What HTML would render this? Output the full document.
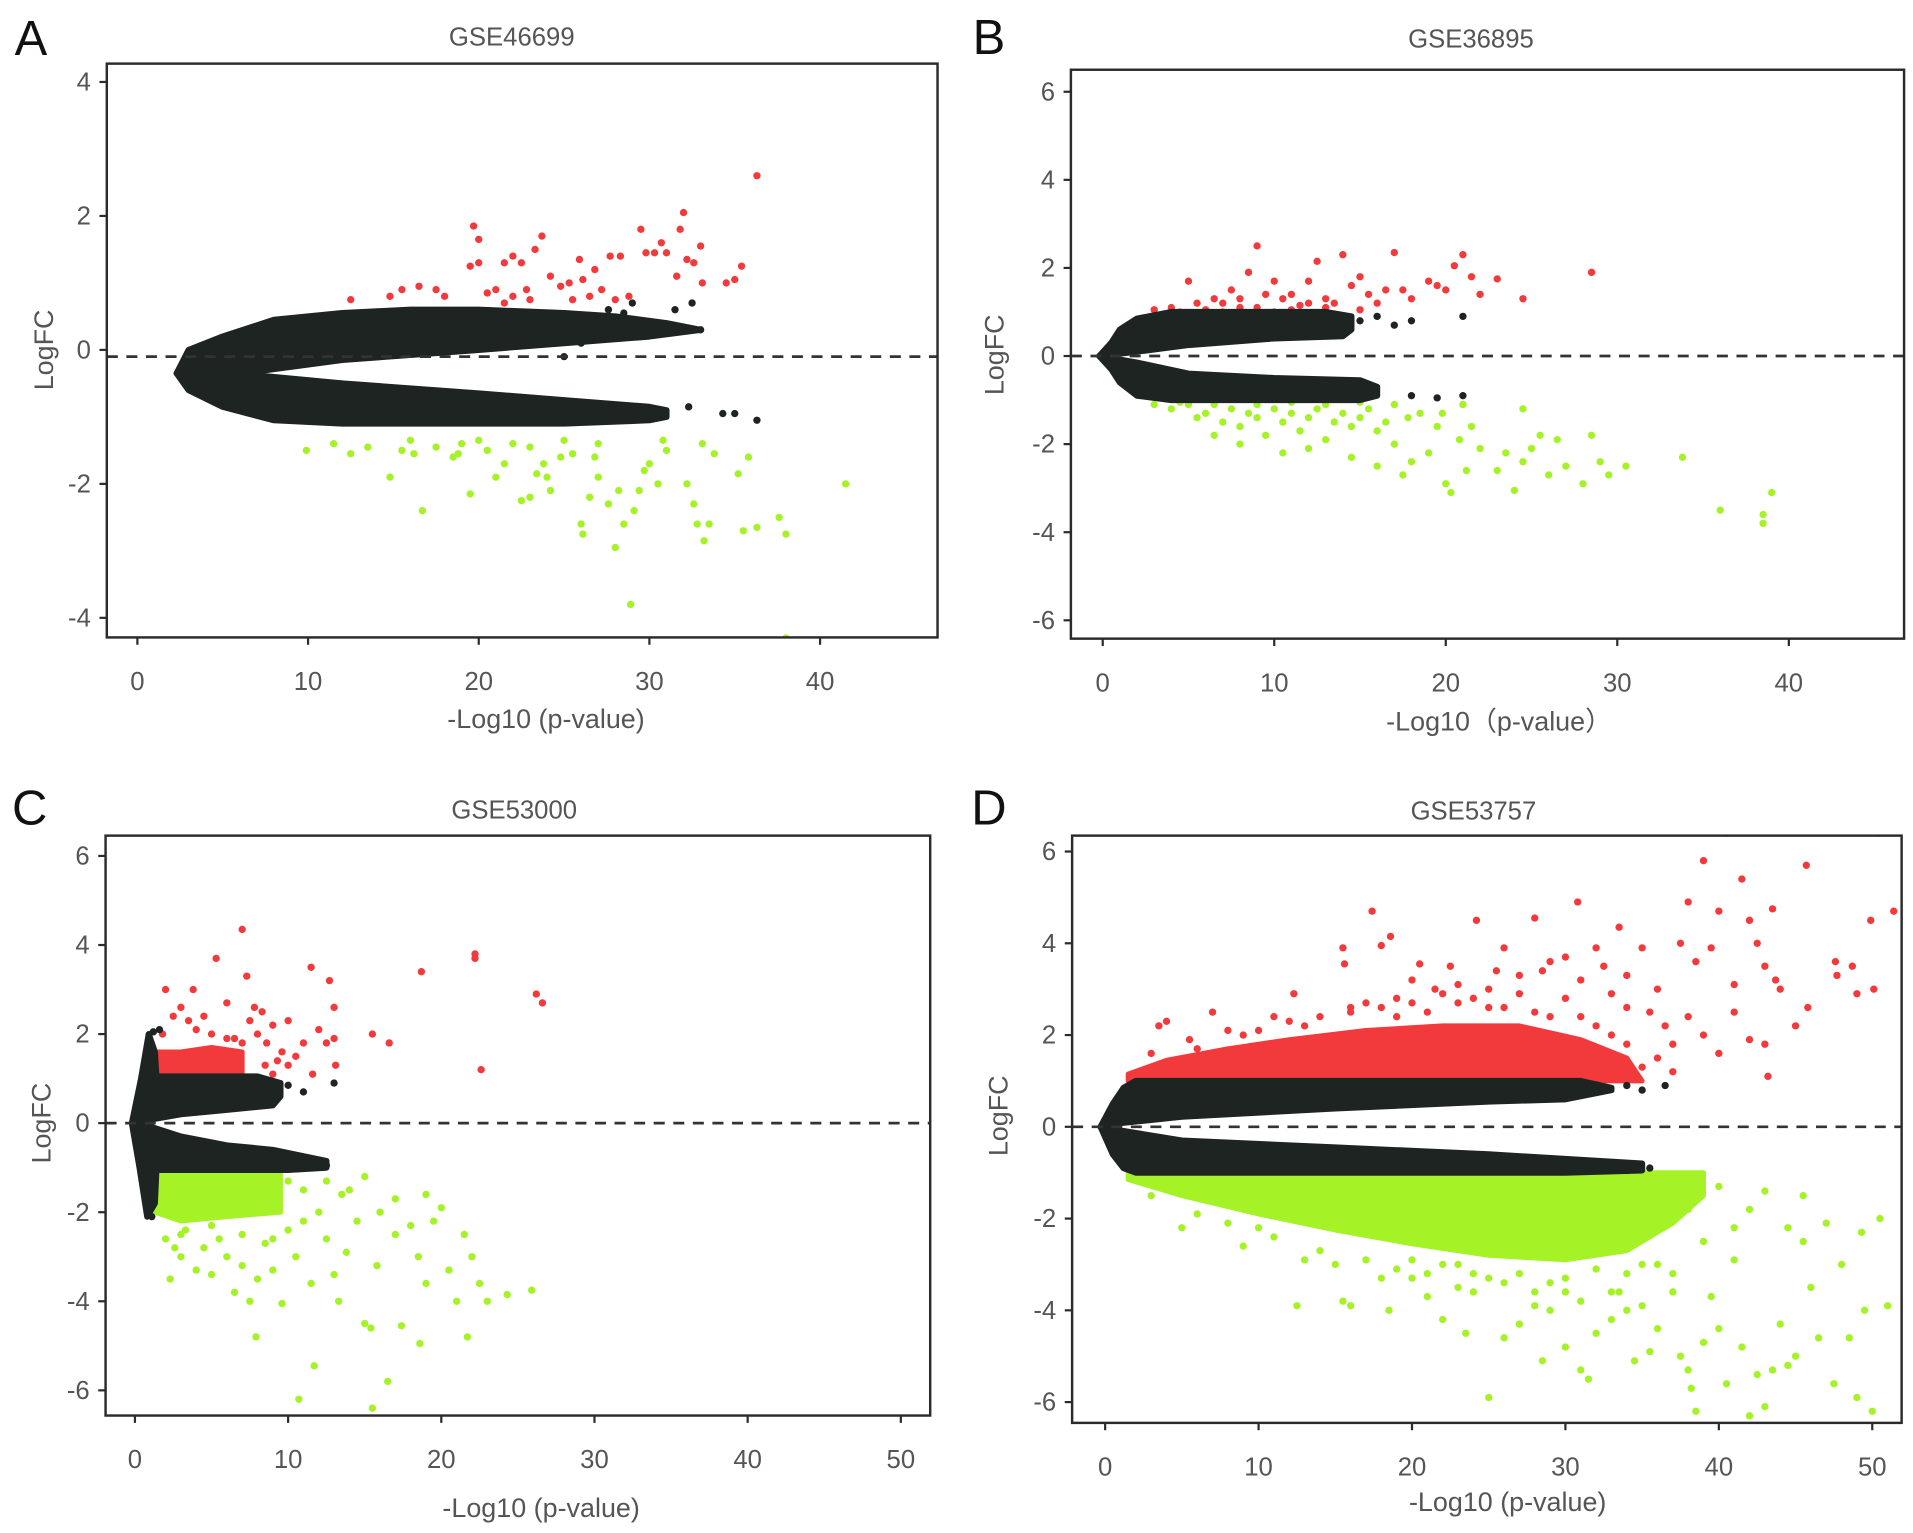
<!DOCTYPE html>
<html><head><meta charset="utf-8">
<style>
html,body{margin:0;padding:0;background:#fff;}
svg{display:block;}
text{font-family:"Liberation Sans",sans-serif;}
</style></head>
<body>
<svg id="fig" width="1913" height="1533" viewBox="0 0 1563 1253" xmlns="http://www.w3.org/2000/svg"></svg>
<script>
// ===== Panel A data (GSE46699) =====
const aBlackUpTopX=[2.3,3,5,8,12,16,20,25,28,31,33];
const aBlackUpTopY=[-0.35,0.0,0.2,0.45,0.55,0.6,0.6,0.55,0.5,0.4,0.3];
const aBlackUpBotX=[7,12,20,25,30,33];
const aBlackUpBotY=[-0.32,-0.15,0.0,0.1,0.2,0.3];
const aBlackLoTopX=[7,12,20,25,30,31];
const aBlackLoTopY=[-0.38,-0.5,-0.65,-0.75,-0.85,-0.9];
const aBlackLoBotX=[2.3,3,5,8,12,20,25,30,31];
const aBlackLoBotY=[-0.35,-0.6,-0.85,-1.05,-1.1,-1.1,-1.1,-1.05,-1.0];
const aRed=[[12.5,0.75],[14.8,0.8],[15.5,0.9],[16.5,0.95],[17.5,0.9],[19.7,1.85],[20,1.65],[19.5,1.25],[20,1.3],[21.5,1.3],[22,1.4],[22.5,1.3],[21,0.9],[22,0.8],[23.3,1.5],[23.7,1.7],[24.2,1.1],[24.8,0.95],[25.3,1.0],[25.9,1.35],[26.1,1.05],[26.8,1.2],[27.2,0.9],[27.7,1.4],[28.3,1.4],[28.8,0.8],[29.5,1.8],[29.8,1.45],[30.3,1.45],[30.7,1.6],[31,1.45],[31.6,1.1],[31.8,1.8],[32,2.05],[32.2,1.35],[32.6,1.3],[33,1.55],[33.1,1.0],[34.5,1.0],[35,1.05],[35.4,1.25],[36.3,2.6],[18,0.8],[21.5,0.7],[23,0.75],[25.5,0.75],[26.5,0.8],[28,0.75],[20.5,0.85],[22.8,0.9]];
const aGreen=[[9.9,-1.5],[11.5,-1.4],[12.5,-1.55],[14.8,-1.9],[15.5,-1.5],[16.2,-1.55],[16.7,-2.4],[17.5,-1.45],[19.5,-2.15],[18.5,-1.6],[20.5,-1.5],[21.5,-1.7],[22.5,-2.25],[23,-2.2],[23.4,-1.85],[23.8,-1.7],[24.2,-2.1],[24.8,-1.6],[25.5,-1.55],[26,-2.6],[26.1,-2.75],[26.5,-2.2],[27,-1.9],[27.6,-2.3],[28,-2.95],[28.2,-2.1],[28.5,-2.6],[28.9,-3.8],[29.1,-2.4],[29.4,-2.1],[29.7,-1.8],[30,-1.7],[30.5,-2.0],[31,-1.5],[32.2,-2.0],[32.6,-2.3],[32.8,-2.6],[33.2,-2.85],[33.5,-2.6],[33.8,-1.55],[33.1,-1.4],[35.2,-1.85],[35.5,-2.7],[35.8,-1.6],[36.3,-2.65],[37.6,-2.5],[38,-2.75],[38,-4.3],[41.5,-2.0],[20,-1.35],[22,-1.4],[25,-1.35],[27,-1.4],[30.8,-1.35],[13.5,-1.45],[18.8,-1.55],[21,-1.9],[24,-1.9],[26.8,-1.6],[16,-1.35],[19,-1.4],[23,-1.45]];
const aBlack=[[27.6,0.6],[28.5,0.55],[29.5,0.4],[30,0.35],[31.5,0.6],[32.5,0.7],[33,0.3],[25,-0.1],[32.3,-0.85],[34.3,-0.95],[35,-0.95],[36.3,-1.05],[29,0.7],[26,0.1]];
const aXTicks=[0,10,20,30,40];
const aYTicks=[-4,-2,0,2,4];
const aDash=-0.1;

// ===== Panel B data (GSE36895) =====
const bBlackUpTopX=[-0.2,0.5,1,2,4,8,13,14.5];
const bBlackUpTopY=[0,0.3,0.6,0.85,1.0,1.0,1.0,0.9];
const bBlackUpBotX=[2,5,10,14,14.5];
const bBlackUpBotY=[0.1,0.25,0.4,0.45,0.6];
const bBlackLoTopX=[2,5,10,15,16];
const bBlackLoTopY=[-0.15,-0.4,-0.5,-0.55,-0.7];
const bBlackLoBotX=[-0.2,0.5,1,2,4,10,15,16];
const bBlackLoBotY=[0,-0.3,-0.6,-0.9,-1.0,-1.0,-1.0,-0.9];
const bRed=[[3,1.05],[4,1.1],[5,1.7],[5.5,1.2],[6.5,1.3],[7,1.2],[7.5,1.5],[8,1.3],[8.5,1.9],[9,2.5],[9.5,1.4],[10,1.7],[10.5,1.3],[11,1.4],[11.5,1.15],[12,1.7],[12.5,2.15],[13,1.3],[13.5,1.2],[14,2.3],[14.5,1.6],[15,1.8],[15.5,1.4],[16,1.2],[16.5,1.5],[17,2.35],[17.5,1.5],[18,1.3],[19,1.7],[19.5,1.6],[20,1.5],[20.5,2.05],[21,2.3],[21.5,1.8],[22,1.4],[23,1.75],[24.5,1.3],[28.5,1.9],[6,1.05],[9,1.1],[11,1.05],[13,1.1],[15,1.05],[4.5,1.0],[7,1.0],[10,1.0],[12,1.2],[8,1.1]];
const bGreen=[[3,-1.1],[4,-1.2],[5,-1.1],[5.5,-1.4],[6,-1.3],[6.5,-1.1],[7,-1.5],[7.5,-1.2],[8,-1.6],[8.5,-1.3],[9,-1.4],[9.5,-1.8],[10,-1.2],[10.5,-1.5],[11,-1.3],[11.5,-1.7],[12,-1.4],[12.5,-1.2],[13,-1.9],[13.5,-1.5],[14,-1.3],[14.5,-1.6],[15,-1.4],[15.5,-1.2],[16,-1.7],[16.5,-1.5],[17,-2.0],[17.5,-2.7],[17.8,-1.4],[18.5,-1.3],[19,-2.2],[19.5,-1.6],[20,-2.9],[20.3,-3.1],[20.8,-1.9],[21.2,-2.6],[21.5,-1.6],[22,-2.1],[23,-2.6],[23.5,-2.2],[24,-3.05],[24.5,-2.4],[25,-2.1],[25.5,-1.8],[26,-2.7],[26.5,-1.9],[27,-2.5],[28,-2.9],[28.5,-1.8],[29,-2.4],[29.5,-2.7],[30.5,-2.5],[33.8,-2.3],[36,-3.5],[38.5,-3.6],[38.5,-3.8],[39,-3.1],[12,-2.1],[8,-2.0],[6.5,-1.8],[10.5,-2.2],[14.5,-2.3],[16,-2.5],[18,-2.4],[21,-1.1],[24.5,-1.2],[19.8,-1.3],[17,-1.1],[9,-1.1],[4.5,-1.05],[11,-1.05],[13,-1.1],[15,-1.05]];
const bBlack=[[15,0.8],[16,0.9],[17,0.7],[18,0.8],[21,0.9],[21,-0.9],[18,-0.9],[19.5,-0.95]];
const bXTicks=[0,10,20,30,40];
const bYTicks=[-6,-4,-2,0,2,4,6];
const bDash=0;

// ===== Panel C data (GSE53000) =====
const cBlackUpTopX=[-0.2,0.4,0.9,1.3,1.4,3,8,9.5];
const cBlackUpTopY=[0,1.0,2.0,1.6,1.05,1.05,1.05,0.9];
const cBlackUpBotX=[1,3,6,9,9.5];
const cBlackUpBotY=[0.08,0.2,0.3,0.4,0.6];
const cBlackLoTopX=[1,3,6,9,12.5];
const cBlackLoTopY=[-0.08,-0.3,-0.5,-0.6,-0.85];
const cBlackLoBotX=[-0.2,0.3,0.8,1.3,1.4,3,10,12.5];
const cBlackLoBotY=[0,-1.0,-2.1,-1.8,-1.05,-1.05,-1.05,-1.0];
const cRedCoreX=[1.3,1.5,3,5,7,7];
const cRedCoreY=[1.05,1.6,1.6,1.7,1.6,1.05];
const cGreenCoreX=[1.3,1.3,3,6,9.5,9.5];
const cGreenCoreY=[-1.05,-2.0,-2.2,-2.1,-2.0,-1.05];
const cRed=[[1.8,2.0],[2,3.0],[2.5,2.4],[3,2.6],[3.5,2.3],[3.8,3.0],[4,2.1],[4.5,2.4],[5,2.0],[5.3,3.7],[6,2.7],[6.5,1.9],[7,4.35],[7.3,3.3],[7.5,2.3],[7.8,2.6],[8,2.0],[8.3,2.5],[8.6,1.8],[9,2.2],[9.3,1.4],[9.6,1.6],[10,1.3],[10.5,1.5],[11,1.8],[11.5,3.5],[11.6,1.1],[12,2.1],[12.5,1.8],[12.7,3.2],[13,2.6],[13,1.9],[13.1,1.3],[15.5,2.0],[16.6,1.8],[18.7,3.4],[22.2,3.8],[22.2,3.7],[22.6,1.2],[26.2,2.9],[26.6,2.7],[8.5,1.3],[9,1.1],[10,2.3],[7,1.8],[6,1.9]];
const cGreen=[[2,-2.6],[2.3,-3.5],[2.6,-2.8],[3,-3.0],[3.3,-2.4],[4,-3.3],[4.5,-2.8],[5,-3.4],[5.5,-2.6],[6,-3.0],[6.5,-3.8],[7,-3.2],[7.5,-4.0],[7.9,-4.8],[8,-3.5],[8.5,-2.7],[9,-3.3],[9.6,-4.05],[10,-2.4],[10.5,-3.0],[10.7,-6.2],[11,-2.2],[11.5,-3.6],[11.7,-5.45],[12,-2.0],[12.5,-2.6],[13,-3.4],[13.3,-4.0],[13.8,-2.9],[14,-1.5],[14.5,-2.2],[15,-4.5],[15.4,-4.6],[15.5,-6.4],[15.8,-3.2],[16,-2.0],[16.5,-5.8],[17,-2.5],[17.4,-4.55],[18,-2.3],[18.5,-3.0],[18.6,-4.95],[19,-3.6],[19.5,-2.2],[20,-1.9],[20.5,-3.3],[21,-4.0],[21.5,-2.5],[21.7,-4.8],[22,-3.0],[22.5,-3.6],[23,-4.0],[24.3,-3.85],[25.9,-3.75],[12.5,-1.3],[13.5,-1.6],[15,-1.2],[17,-1.7],[19,-1.6],[11,-1.5],[10,-1.3],[3,-2.5],[5,-2.3],[7,-2.5],[9,-2.6]];
const cBlack=[[1.2,2.05],[1.6,2.1],[10,0.85],[11,0.7],[13,0.9],[9,0.45],[11,-0.8],[12,-0.9],[12.5,-0.95],[1.1,-2.1]];
const cXTicks=[0,10,20,30,40,50];
const cYTicks=[-6,-4,-2,0,2,4,6];
const cDash=0;

// ===== Panel D data (GSE53757) =====
const dBlackUpTopX=[-0.3,0.5,1.2,2,10,20,28,31,33];
const dBlackUpTopY=[0,0.5,0.85,1.0,1.0,1.0,1.0,1.0,0.85];
const dBlackUpBotX=[1,5,15,25,30,33];
const dBlackUpBotY=[0.08,0.22,0.4,0.55,0.6,0.8];
const dBlackLoTopX=[1,5,15,25,30,35];
const dBlackLoTopY=[-0.08,-0.3,-0.45,-0.6,-0.7,-0.8];
const dBlackLoBotX=[-0.3,0.5,1.2,2,10,20,30,35];
const dBlackLoBotY=[0,-0.6,-0.9,-1.0,-1.0,-1.0,-1.0,-0.95];
const dRedCoreX=[1.5,1.5,4,8,12,17,22,27,31,34,35];
const dRedCoreY=[1.0,1.15,1.45,1.7,1.9,2.1,2.2,2.2,1.9,1.5,1.0];
const dGreenCoreX=[1.5,1.5,5,10,15,20,25,30,34,37,39,39];
const dGreenCoreY=[-1.0,-1.15,-1.5,-1.9,-2.25,-2.55,-2.8,-2.9,-2.7,-2.1,-1.5,-1.0];
const dRed=[[3.5,2.2],[4,2.3],[5.5,1.9],[7,2.5],[9,2.0],[11,2.4],[12.3,2.9],[13,2.2],[15.5,3.9],[15.6,3.55],[16,2.6],[17.4,4.7],[18,3.95],[18.6,4.15],[19,2.8],[20,3.2],[20.5,3.55],[21.5,3.0],[22.5,3.5],[23,3.1],[24.2,4.5],[25,3.0],[25.5,3.4],[26,3.9],[27,3.3],[28,4.55],[28.5,3.4],[29,3.6],[30,3.7],[30.8,4.9],[31,3.2],[32,3.9],[32.5,3.5],[33.5,4.35],[34,3.3],[35,3.9],[35.5,2.5],[36,3.0],[37.5,4.0],[38,4.9],[38.5,3.6],[39,5.8],[39.5,3.9],[40,4.7],[40.5,6.4],[41,3.1],[41.5,5.4],[42,4.5],[42.5,4.0],[43,3.5],[43.5,4.75],[43.7,3.2],[43,1.8],[43.2,1.1],[44,3.0],[45,2.2],[45.7,5.7],[45.8,2.6],[47.6,3.6],[47.7,3.3],[48.7,3.5],[49,2.9],[49.9,4.5],[50.1,3.0],[50.5,6.4],[51.4,4.7],[36.5,2.2],[37,1.8],[38,2.4],[39,2.0],[40,1.6],[41,2.5],[42,1.9],[34,2.6],[33,2.9],[35,1.3],[36,1.5],[37,1.2],[30,2.8],[27,2.9],[24,2.8],[20,2.7],[18,2.6],[14,2.4],[10,2.1],[6,1.7],[3,1.6],[8,2.1],[12,2.3],[16,2.5],[21,2.5],[23,2.7],[26,2.6],[28,2.5],[29,2.4],[31,2.4],[32,2.2],[33,2.0],[34,1.8],[25,2.6],[19,2.4],[22,2.9],[17,2.7]];
const dGreen=[[3,-1.5],[5,-2.2],[6,-1.9],[9,-2.6],[10,-2.2],[12.5,-3.9],[13,-2.9],[15,-3.0],[15.5,-3.8],[16,-3.9],[18.5,-4.0],[20,-3.3],[21,-3.7],[22,-4.2],[23,-3.5],[23.5,-4.5],[25,-5.9],[26,-4.6],[27,-4.3],[28.5,-5.1],[29,-4.0],[30,-4.8],[31,-5.3],[31.5,-5.5],[32,-4.5],[33,-4.2],[33.5,-3.6],[34,-4.0],[34.5,-5.1],[35,-3.9],[35.5,-4.9],[36,-4.4],[37,-3.2],[37.5,-5.0],[38,-5.3],[38.2,-5.7],[38.5,-6.2],[39,-4.7],[39.5,-3.7],[40,-4.4],[40.5,-5.6],[41,-2.9],[41.5,-4.8],[42,-6.3],[42.5,-5.4],[43,-6.1],[43.5,-5.3],[44,-4.3],[44.5,-5.2],[45,-5.0],[45.5,-2.5],[46,-3.5],[46.5,-4.6],[47,-2.1],[47.5,-5.6],[48,-3.0],[48.5,-4.6],[49,-5.9],[49.3,-2.3],[49.5,-4.0],[50,-6.2],[50.5,-2.0],[51,-3.9],[36,-1.5],[37,-2.0],[38,-1.8],[39,-2.5],[40,-1.3],[41,-2.2],[42,-1.8],[43,-1.4],[44.5,-2.2],[45.5,-1.5],[33,-3.6],[31,-3.8],[28,-3.6],[26,-3.4],[24,-3.2],[22,-3.0],[20,-2.9],[36,-3.0],[37,-3.6],[8,-2.1],[11,-2.4],[14,-2.7],[17,-2.9],[19,-3.1],[21,-3.2],[23,-3.0],[25,-3.3],[27,-3.2],[29,-3.4],[30,-3.3],[32,-3.1],[34,-3.2],[35,-3.0],[24,-3.6],[28,-3.9],[30,-3.6],[18,-3.3]];
const dBlack=[[34,0.9],[35,0.8],[36.5,0.9],[32,0.8],[34,-0.95],[35.5,-0.9],[33,-0.85]];
const dXTicks=[0,10,20,30,40,50];
const dYTicks=[-6,-4,-2,0,2,4,6];
const dDash=0;

const NS='http://www.w3.org/2000/svg';
const svg=document.getElementById('fig');
const RED='#f23a3c', GREEN='#a5f227', BLACK='#1e2422', AX='#2b2b2b', TXT='#555';

function mk(tag,attrs,parent){
  const e=document.createElementNS(NS,tag);
  for(const k in attrs) e.setAttribute(k,attrs[k]);
  (parent||svg).appendChild(e);
  return e;
}
function txt(str,attrs,parent){const t=mk('text',attrs,parent);t.textContent=str;return t;}

function drawPanel(cfg,id){
  const g=mk('g',{});
  
  
  const [L,T,R,B]=cfg.frame;
  const sx=v=>cfg.x0+v*cfg.kx;
  const sy=v=>cfg.y0-v*cfg.ky;
  const cid='clip'+id;
  const cp=mk('clipPath',{id:cid},g);
  mk('rect',{x:L,y:T,width:R-L,height:B-T},cp);
  const plot=mk('g',{'clip-path':'url(#'+cid+')'},g);
  
  
  function band(topX,topY,botX,botY,color,name){
    let pts=[];
    for(let i=0;i<topX.length;i++) pts.push(sx(topX[i])+','+sy(topY[i]));
    for(let i=botX.length-1;i>=0;i--) pts.push(sx(botX[i])+','+sy(botY[i]));
    const p=mk('polygon',{points:pts.join(' '),fill:color,stroke:color,'stroke-width':5,'stroke-linejoin':'round'},plot);
    
    
  }
  function core(xs,ys,color,name){
    const pts=xs.map((x,i)=>sx(x)+','+sy(ys[i])).join(' ');
    const p=mk('polygon',{points:pts,fill:color,stroke:color,'stroke-width':4,'stroke-linejoin':'round'},plot);
    
    
  }
  function dots(arr,color,name){
    const gg=mk('g',{fill:color},plot);
    
    
    arr.forEach(d=>{
      const c=mk('circle',{cx:sx(d[0]),cy:sy(d[1]),r:3},gg);
      
      
    });
  }
  if(cfg.redCore) core(cfg.redCore[0],cfg.redCore[1],RED,'up-regulated-dense');
  if(cfg.greenCore) core(cfg.greenCore[0],cfg.greenCore[1],GREEN,'down-regulated-dense');
  dots(cfg.red,RED,'up-regulated-genes');
  dots(cfg.green,GREEN,'down-regulated-genes');
  band(cfg.upTop[0],cfg.upTop[1],cfg.upBot[0],cfg.upBot[1],BLACK,'nonsignificant-upper-wing');
  band(cfg.loTop[0],cfg.loTop[1],cfg.loBot[0],cfg.loBot[1],BLACK,'nonsignificant-lower-wing');
  dots(cfg.black,BLACK,'nonsignificant-genes');
  const dl=mk('line',{x1:L,x2:R,y1:sy(cfg.dash),y2:sy(cfg.dash),stroke:'#333','stroke-width':2.2,'stroke-dasharray':'9,7'},plot);
  
  
  const fr=mk('rect',{x:L,y:T,width:R-L,height:B-T,fill:'none',stroke:AX,'stroke-width':2},g);
  
  
  cfg.xt.forEach(v=>{
    const x=sx(v);
    const tk=mk('line',{x1:x,x2:x,y1:B,y2:B+6,stroke:AX,'stroke-width':1.8},g);
    
    
    const t=txt(String(v),{x:x,y:B+43,'text-anchor':'middle','font-size':21,fill:TXT},g);
    
    
  });
  cfg.yt.forEach(v=>{
    const y=sy(v);
    const tk=mk('line',{x1:L-6,x2:L,y1:y,y2:y,stroke:AX,'stroke-width':1.8},g);
    
    
    const t=txt(String(v),{x:L-13,y:y+7,'text-anchor':'end','font-size':21,fill:TXT},g);
    
    
  });
  const xt=txt(cfg.xtitle,{x:cfg.xtPos[0],y:cfg.xtPos[1],'text-anchor':'middle','font-size':22,fill:TXT},g);
  
  
  const yt=txt('LogFC',{x:0,y:0,'text-anchor':'middle','font-size':22,fill:TXT,transform:'translate('+cfg.ytPos[0]+','+cfg.ytPos[1]+') rotate(-90)'},g);
  
  
  const tt=txt(cfg.title,{x:cfg.titlePos[0],y:cfg.titlePos[1],'text-anchor':'middle','font-size':21,fill:TXT},g);
  
  
  const lt=txt(cfg.letter,{x:cfg.letterPos[0],y:cfg.letterPos[1],'text-anchor':'middle','font-size':40,fill:'#111'},g);
  
  
}

drawPanel({frame:[87,52,766,521],x0:112,kx:13.95,y0:286,ky:54.75,
  upTop:[aBlackUpTopX,aBlackUpTopY],upBot:[aBlackUpBotX,aBlackUpBotY],loTop:[aBlackLoTopX,aBlackLoTopY],loBot:[aBlackLoBotX,aBlackLoBotY],
  red:aRed,green:aGreen,black:aBlack,xt:aXTicks,yt:aYTicks,dash:aDash,
  xtitle:'-Log10 (p-value)',xtPos:[446,595],ytPos:[43,286],title:'GSE46699',titlePos:[418,37],letter:'A',letterPos:[25,45]},'a');
drawPanel({frame:[875,57,1556,522],x0:901,kx:14.02,y0:291,ky:36,
  upTop:[bBlackUpTopX,bBlackUpTopY],upBot:[bBlackUpBotX,bBlackUpBotY],loTop:[bBlackLoTopX,bBlackLoTopY],loBot:[bBlackLoBotX,bBlackLoBotY],
  red:bRed,green:bGreen,black:bBlack,xt:bXTicks,yt:bYTicks,dash:bDash,
  xtitle:'-Log10（p-value）',xtPos:[1225,597],ytPos:[820,290],title:'GSE36895',titlePos:[1202,39],letter:'B',letterPos:[808,44]},'b');
drawPanel({frame:[86,683,760,1157],x0:110,kx:12.52,y0:918,ky:36.4,
  upTop:[cBlackUpTopX,cBlackUpTopY],upBot:[cBlackUpBotX,cBlackUpBotY],loTop:[cBlackLoTopX,cBlackLoTopY],loBot:[cBlackLoBotX,cBlackLoBotY],
  redCore:[cRedCoreX,cRedCoreY],greenCore:[cGreenCoreX,cGreenCoreY],
  red:cRed,green:cGreen,black:cBlack,xt:cXTicks,yt:cYTicks,dash:cDash,
  xtitle:'-Log10 (p-value)',xtPos:[442,1240],ytPos:[41,918],title:'GSE53000',titlePos:[420,669],letter:'C',letterPos:[24,674]},'c');
drawPanel({frame:[876,683,1554,1163],x0:903,kx:12.54,y0:921,ky:37.5,
  upTop:[dBlackUpTopX,dBlackUpTopY],upBot:[dBlackUpBotX,dBlackUpBotY],loTop:[dBlackLoTopX,dBlackLoTopY],loBot:[dBlackLoBotX,dBlackLoBotY],
  redCore:[dRedCoreX,dRedCoreY],greenCore:[dGreenCoreX,dGreenCoreY],
  red:dRed,green:dGreen,black:dBlack,xt:dXTicks,yt:dYTicks,dash:dDash,
  xtitle:'-Log10 (p-value)',xtPos:[1232,1235],ytPos:[823,912],title:'GSE53757',titlePos:[1204,670],letter:'D',letterPos:[808,674]},'d');
</script>
</body></html>
